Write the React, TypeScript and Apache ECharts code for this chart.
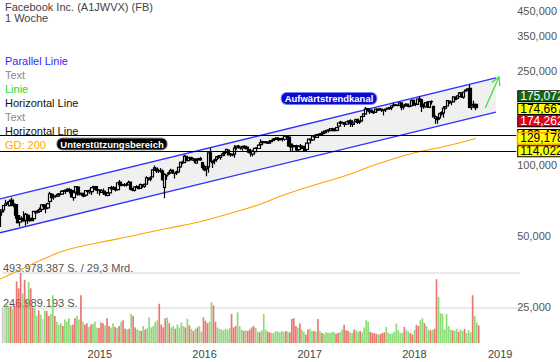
import React, { useEffect, useRef } from 'react';
import * as echarts from 'echarts';

// weekly candles, [open, close, low, high]
const ohlc2014 = [
  [54.7, 62.6, 54.4, 63.4], [63.0, 64.3, 60.7, 64.6], [64.2, 67.1, 62.7, 67.3], [67.1, 68.1, 66.9, 71.0],
  [68.7, 68.5, 67.6, 70.0], [67.0, 69.8, 66.5, 71.2], [70.8, 67.7, 67.0, 72.6], [68.1, 67.2, 66.0, 69.5],
  [67.7, 61.0, 59.0, 67.9], [60.8, 56.8, 56.3, 63.9], [57.1, 58.5, 54.7, 61.0], [59.2, 58.9, 56.8, 60.4],
  [59.1, 57.7, 57.2, 63.5], [58.1, 61.5, 55.0, 62.3], [61.0, 57.9, 56.2, 61.4], [59.0, 58.0, 57.3, 60.9],
  [57.9, 58.6, 57.5, 59.6], [59.0, 63.3, 58.9, 63.8], [63.2, 62.5, 61.5, 63.6], [62.9, 63.5, 62.2, 64.3],
  [63.4, 64.5, 63.0, 65.8], [64.6, 67.6, 64.0, 68.0], [67.5, 66.3, 66.1, 68.1], [65.8, 65.0, 62.2, 66.2],
  [65.5, 68.4, 64.9, 69.0], [69.9, 75.2, 68.0, 76.7], [74.9, 72.4, 71.5, 75.7], [72.9, 73.1, 71.0, 74.0],
  [73.5, 73.6, 72.6, 74.4], [73.6, 74.6, 73.2, 75.6], [75.2, 74.8, 73.8, 75.9], [75.0, 77.0, 74.7, 77.9],
  [77.0, 77.5, 76.2, 78.0], [77.1, 77.9, 75.0, 78.3], [77.8, 78.8, 77.0, 79.4], [78.1, 77.4, 75.5, 79.7],
  [77.6, 72.9, 72.6, 78.6], [72.5, 76.0, 70.3, 76.3], [76.5, 80.7, 76.4, 81.2], [80.3, 75.0, 73.8, 81.2],
  [75.1, 75.6, 73.9, 76.0], [75.6, 75.0, 73.6, 75.8], [74.9, 73.6, 72.7, 75.2], [74.3, 77.7, 73.7, 78.0],
  [77.3, 77.0, 75.6, 77.9], [76.6, 77.8, 75.0, 78.0], [76.8, 79.9, 74.4, 80.0], [80.1, 80.8, 79.5, 81.4],
  [80.7, 78.5, 77.5, 81.0],
];
const ohlc2015 = [
  [78.0, 77.7, 75.2, 78.3], [78.0, 77.8, 73.9, 78.6], [76.2, 77.5, 75.8, 78.5], [77.2, 75.9, 74.4, 79.2],
  [76.1, 75.0, 73.5, 76.3], [74.1, 75.7, 73.5, 76.0], [75.9, 79.9, 75.7, 80.3], [79.6, 79.0, 78.1, 81.4],
  [79.0, 80.0, 78.0, 81.2], [79.7, 78.1, 76.9, 80.5], [78.4, 83.8, 78.2, 84.0], [84.3, 82.3, 80.2, 86.1],
  [82.4, 81.7, 81.0, 83.6], [81.8, 82.3, 80.5, 83.5], [82.4, 82.0, 80.8, 83.7], [82.1, 84.0, 81.6, 85.6],
  [84.4, 78.8, 77.8, 84.7], [78.9, 78.1, 77.1, 79.6], [77.8, 80.4, 76.9, 81.0], [80.4, 80.6, 79.6, 81.7],
  [80.5, 79.2, 78.9, 81.5], [79.3, 82.4, 79.0, 83.2], [82.4, 80.9, 79.7, 82.8], [80.9, 82.5, 79.9, 83.2],
  [82.6, 88.0, 82.4, 89.4], [86.7, 87.6, 85.4, 88.1], [86.8, 88.0, 85.0, 89.2], [88.8, 95.0, 88.5, 95.0],
  [95.5, 97.0, 94.0, 99.2], [96.6, 94.0, 92.2, 97.0], [94.4, 94.3, 92.2, 96.0], [94.3, 94.2, 92.3, 96.7],
  [93.8, 86.1, 85.8, 95.6], [80.0, 91.0, 72.0, 92.0], [89.8, 89.7, 86.1, 90.8], [91.3, 92.0, 90.1, 93.4],
  [92.3, 94.4, 91.4, 96.0], [94.9, 92.8, 91.3, 95.0], [92.0, 92.1, 87.4, 92.5], [92.3, 93.2, 90.5, 94.2],
  [93.2, 97.5, 92.3, 97.9], [97.8, 102.2, 97.1, 103.0], [102.3, 102.0, 100.5, 104.0], [102.0, 108.8, 101.8, 110.1],
  [108.5, 103.9, 103.7, 109.1], [104.0, 106.9, 103.6, 107.8], [107.3, 105.5, 104.1, 107.9], [104.8, 106.2, 103.8, 107.7],
  [105.8, 104.0, 101.5, 106.6], [101.4, 104.0, 100.8, 106.5], [104.9, 105.9, 104.2, 107.0], [106.0, 104.7, 104.0, 107.9],
];
const ohlc2016 = [
  [102.0, 97.3, 95.4, 103.0], [97.9, 95.0, 93.8, 99.8], [95.9, 97.9, 89.4, 98.6], [97.9, 112.2, 92.3, 112.8],
  [112.3, 104.1, 102.6, 117.6], [103.0, 102.0, 96.8, 104.2], [103.7, 104.6, 100.5, 105.9], [105.3, 107.9, 103.0, 108.9],
  [108.0, 108.4, 106.0, 110.0], [107.4, 109.4, 104.9, 109.9], [109.2, 111.0, 108.6, 112.6], [111.5, 112.5, 108.9, 113.2],
  [112.8, 116.1, 112.3, 116.3], [115.4, 110.1, 109.8, 115.7], [110.7, 110.5, 108.0, 112.0], [110.8, 110.1, 108.7, 111.5],
  [110.9, 117.6, 107.1, 120.8], [118.0, 119.8, 115.8, 120.5], [119.7, 119.8, 117.0, 121.1], [118.8, 117.7, 115.8, 119.5],
  [117.9, 119.5, 114.7, 120.0], [119.7, 118.5, 116.9, 120.8], [118.6, 116.6, 115.9, 119.4], [115.6, 113.0, 111.9, 116.6],
  [114.0, 112.3, 108.2, 116.8], [110.9, 114.2, 108.2, 115.2], [113.6, 117.2, 112.0, 117.9], [117.8, 117.3, 116.0, 118.7],
  [117.1, 121.0, 116.8, 121.1], [121.6, 123.9, 120.6, 128.3], [123.9, 125.2, 122.5, 126.4], [125.2, 124.9, 123.8, 126.0],
  [124.6, 123.6, 122.6, 125.2], [123.4, 125.0, 122.5, 125.7], [125.2, 126.5, 123.4, 126.7], [126.7, 127.1, 126.0, 129.0],
  [127.9, 129.1, 125.7, 129.5], [129.3, 129.9, 127.8, 130.1], [127.5, 128.3, 125.7, 129.3], [128.4, 129.0, 127.3, 129.4],
  [129.2, 127.9, 125.5, 130.0], [128.2, 132.1, 126.7, 133.0], [132.7, 131.3, 130.3, 133.5], [130.9, 120.0, 119.1, 131.0],
  [122.2, 119.0, 114.0, 124.0], [119.6, 119.2, 113.6, 119.7], [120.2, 120.4, 119.0, 121.2], [120.1, 115.4, 114.0, 121.6],
  [115.9, 119.7, 114.1, 120.0], [119.0, 119.9, 116.8, 122.5], [119.5, 117.3, 116.9, 119.8], [116.5, 115.1, 114.8, 118.3],
];
const ohlc2017 = [
  [116.0, 123.4, 115.5, 123.9], [123.6, 128.3, 123.0, 129.3], [128.0, 127.0, 126.2, 128.5], [127.3, 132.2, 126.8, 133.0],
  [132.0, 131.0, 129.5, 133.9], [130.5, 134.2, 130.0, 134.5], [134.4, 133.5, 132.5, 134.6], [133.8, 135.4, 133.3, 136.0],
  [135.5, 137.4, 134.8, 138.0], [136.8, 138.7, 136.0, 139.4], [139.0, 139.8, 137.9, 140.4], [139.8, 140.3, 136.9, 141.4],
  [139.4, 142.1, 138.6, 142.8], [141.9, 140.8, 139.0, 143.4], [141.0, 139.4, 138.3, 142.2], [139.8, 143.7, 139.0, 143.9],
  [145.7, 150.3, 145.2, 151.0], [151.7, 150.2, 148.2, 153.6], [150.7, 150.3, 149.0, 151.4], [150.7, 148.1, 144.5, 151.2],
  [148.5, 152.1, 148.3, 152.3], [152.0, 153.6, 150.9, 154.0], [153.6, 149.6, 144.6, 155.8], [148.2, 150.6, 144.4, 152.7],
  [152.4, 155.1, 152.0, 156.5], [155.6, 151.0, 148.8, 156.5], [151.7, 153.5, 148.8, 153.9], [153.4, 160.0, 152.2, 160.3],
  [160.2, 164.4, 159.9, 165.0], [164.0, 172.5, 163.1, 175.5], [173.0, 171.2, 168.1, 173.4], [170.5, 168.1, 164.1, 173.1],
  [170.1, 167.4, 165.5, 171.7], [167.2, 166.3, 164.2, 169.0], [166.6, 172.0, 165.8, 173.0], [172.0, 170.0, 168.5, 173.0],
  [172.0, 171.7, 170.0, 174.0], [172.0, 170.5, 167.2, 173.1], [170.5, 170.9, 161.6, 172.0], [171.4, 172.2, 167.5, 173.0],
  [172.6, 173.7, 171.0, 174.5], [173.5, 174.7, 171.2, 174.8], [174.7, 177.9, 170.3, 178.0], [178.0, 178.9, 176.1, 183.0],
  [178.6, 178.8, 177.4, 181.0], [178.6, 179.0, 176.6, 180.0], [178.5, 182.8, 178.0, 183.0], [183.0, 175.1, 170.1, 184.2],
  [176.0, 179.0, 171.6, 180.0], [179.0, 180.2, 176.6, 182.3], [180.6, 177.5, 175.8, 181.0], [177.1, 176.5, 175.4, 178.9],
];
const ohlc2018 = [
  [177.7, 186.9, 177.6, 188.9], [187.9, 179.4, 177.4, 188.9], [181.5, 181.3, 176.8, 182.4], [180.2, 190.0, 179.0, 190.6],
  [189.0, 190.3, 184.6, 195.3], [188.2, 176.1, 167.2, 190.6], [177.0, 177.4, 172.8, 181.6], [175.8, 183.3, 174.5, 183.6],
  [184.5, 176.6, 174.1, 185.7], [175.2, 185.2, 174.0, 185.5], [185.2, 185.1, 180.0, 187.6], [177.0, 159.4, 159.0, 177.2],
  [157.0, 159.8, 149.0, 161.8], [155.4, 157.2, 149.0, 159.7], [157.9, 164.5, 155.0, 166.0], [164.2, 166.3, 161.4, 168.7],
  [165.8, 173.6, 158.2, 177.1], [173.8, 176.6, 171.9, 177.5], [177.4, 187.0, 177.1, 187.7], [186.0, 183.2, 180.9, 187.1],
  [184.6, 184.9, 178.9, 186.0], [184.9, 194.0, 183.4, 194.1], [193.1, 189.1, 187.5, 194.9], [191.1, 195.9, 189.5, 196.9],
  [194.4, 201.7, 193.1, 203.6], [201.5, 194.3, 191.8, 202.5], [193.4, 203.2, 190.4, 203.6], [204.9, 207.3, 203.9, 208.6],
  [207.5, 210.0, 205.4, 210.6], [210.6, 174.9, 173.5, 218.6], [175.3, 177.8, 170.6, 179.8], [178.9, 180.3, 177.2, 187.0],
  [180.1, 174.7, 170.3, 181.4],
];

// weekly volume, million shares
const vol2014 = [250, 245, 275, 250, 262, 240, 262, 434, 385, 494, 350, 446, 300, 430, 386, 250, 245, 193, 230, 200,
  170, 230, 225, 190, 205, 337, 190, 150, 130, 140, 120, 165, 150, 175, 125, 130, 175, 190, 165, 337,
  150, 130, 140, 115, 130, 135, 150, 110, 105];
const vol2015 = [145, 140, 125, 175, 120, 110, 140, 115, 105, 120, 150, 160, 100, 95, 100, 205, 190, 110, 95, 90,
  85, 120, 95, 105, 181, 110, 120, 150, 160, 277, 130, 110, 175, 180, 140, 110, 120, 100, 130, 110,
  145, 120, 110, 170, 125, 100, 85, 100, 110, 120, 80, 181];
const vol2016 = [157, 140, 150, 289, 265, 150, 110, 100, 95, 90, 100, 95, 105, 205, 110, 120, 217, 120, 95, 85,
  90, 85, 95, 110, 120, 105, 80, 75, 90, 205, 95, 80, 75, 70, 72, 85, 80, 75, 85, 78,
  85, 80, 75, 170, 175, 120, 110, 137, 96, 80, 60, 96];
const vol2017 = [100, 85, 84, 80, 169, 85, 70, 65, 75, 72, 70, 80, 75, 65, 70, 78, 95, 128, 90, 85,
  75, 70, 95, 88, 80, 85, 75, 110, 161, 150, 80, 72, 70, 65, 60, 62, 70, 75, 113, 72,
  65, 68, 80, 137, 90, 70, 72, 113, 90, 80, 70, 60];
const vol2018 = [90, 128, 120, 161, 176, 140, 120, 95, 90, 92, 100, 450, 325, 210, 205, 96, 205, 120, 95, 90,
  85, 100, 80, 95, 85, 100, 70, 90, 75, 337, 193, 145, 125];

const firstWeek = '2014-01-27';
const axisStart = '2014-01-28';
const axisEnd = '2019-01-01';
const neutralWeeks = [0, 1, 20];
const volumeMax = 493978387;
const turnoverText = '29,3 Mrd.';
const priceTicks = [25, 50, 100, 250, 350, 450];

const gdDates = ['2014-01-28', '2014-04-07', '2014-06-15', '2014-09-17', '2015-01-09', '2015-05-03', '2015-08-28',
  '2015-12-21', '2016-04-13', '2016-07-15', '2016-10-03', '2017-01-28', '2017-05-23', '2017-09-14', '2018-01-09',
  '2018-05-03', '2018-08-13'];
const gdValues = [32.7, 35.7, 39.1, 43.4, 46.7, 49.8, 53.5, 57.1, 62.4, 67.4, 73.6, 82.0, 90.4, 101.6, 112.1, 120.0, 129.178];
const gdLast = 129.178;

const channelDates = ['2014-01-28', '2018-10-22'];
const channelUpper = [71.5, 233.3];
const channelLower = [51.4, 167.3];
const arrowDates = ['2018-09-15', '2018-11-02'];
const arrowPrices = [174.0, 235.6];
const horizontalLevels = [133.478, 114.022];
const quoteLevels = [175.072, 174.667, 174.262];

const legendTexts = ['Parallel Linie', 'Text', 'Linie', 'Horizontal Line', 'Text', 'Horizontal Line', 'GD: 200'];
const legendColors = ['#2b2bff', '#8a8a8a', '#22dd22', '#111111', '#8a8a8a', '#111111', '#ffa500'];

const FONT = '"Liberation Sans", Arial, sans-serif';
const DAY = 86400000;
const ts = (d: string) => new Date(d + 'T00:00:00Z').getTime();
const fmtPrice = (v: number) => Number(v).toFixed(3).replace('.', ',');
const fmtInt = (v: number) => Math.floor(v).toString().replace(/\B(?=(\d{3})+(?!\d))/g, '.');
const yearLabel = (v: number) => {
  const d = new Date(v);
  if (d.getUTCMonth() !== 0 || d.getUTCDate() !== 1) return '';
  const y = String(d.getUTCFullYear());
  return v >= ts(axisEnd) ? `{last|${y}}` : y;
};

function buildOption() {
  const ohlc = [...ohlc2014, ...ohlc2015, ...ohlc2016, ...ohlc2017, ...ohlc2018];
  const vols = [...vol2014, ...vol2015, ...vol2016, ...vol2017, ...vol2018];
  const t0 = ts(firstWeek);
  const dates = ohlc.map((_, i) => t0 + i * 7 * DAY);
  const candleData = ohlc.map((c, i) => [dates[i], c[0], c[1], c[2], c[3]]);
  const volData = vols.map((v, i) => {
    const c = ohlc[i];
    let color = c[1] >= c[0] ? 'rgba(105,205,75,0.75)' : 'rgba(228,65,65,0.72)';
    if (neutralWeeks.includes(i)) color = 'rgba(165,165,165,0.55)';
    return { value: [dates[i], v * 1e6], itemStyle: { color } };
  });
  const gdData = gdDates.map((d, i) => [ts(d), gdValues[i]]);

  const hidden = { color: 'rgba(0,0,0,0)', width: 0 };
  const boxLabel = (bg: string, fg: string, border: string, offset: number[], bw = 1) => ({
    show: true,
    position: 'end',
    distance: 2,
    formatter: (p: any) => fmtPrice(p.value),
    backgroundColor: bg,
    color: fg,
    borderColor: border,
    borderWidth: bw,
    padding: [0, 2, 0, 2],
    fontSize: 12,
    lineHeight: 10,
    fontFamily: FONT,
    offset,
  });

  const text = (t: string, x: number, y: number, fill: string) => ({
    type: 'text', x, y, z: 100,
    style: { text: t, fill, fontSize: 11, fontFamily: FONT, verticalAlign: 'middle' },
  });

  return {
    animation: false,
    textStyle: { fontFamily: FONT },
    grid: [
      { left: 0, top: 0, width: 520, height: 343 },
      { left: 0, top: 273, width: 520, height: 70 },
    ],
    xAxis: [
      { type: 'time', gridIndex: 0, min: ts(axisStart), max: ts(axisEnd), show: false },
      {
        type: 'time', gridIndex: 1, min: ts(axisStart), max: ts(axisEnd),
        minInterval: 365 * DAY, maxInterval: 366 * DAY,
        axisLine: { show: false }, axisTick: { show: false }, splitLine: { show: false },
        axisLabel: {
          formatter: (v: number) => yearLabel(v),
          color: '#444', fontSize: 11, margin: 5, showMinLabel: false,
          rich: { last: { color: '#444', fontSize: 11, padding: [0, 38, 0, 0] } },
        },
      },
    ],
    yAxis: [
      {
        type: 'log', gridIndex: 0, position: 'right', min: 17.5, max: 500,
        axisLine: { show: false }, axisTick: { show: false }, splitLine: { show: false },
        axisLabel: {
          customValues: priceTicks, formatter: (v: number) => fmtPrice(v),
          color: '#555', fontSize: 11, margin: 1,
        },
      },
      {
        type: 'value', gridIndex: 1, position: 'left', min: 0, max: volumeMax, interval: volumeMax / 2,
        axisLine: { show: false }, axisTick: { show: false },
        splitLine: { show: true, showMinLine: false, lineStyle: { color: '#e2e2e2', width: 1.5 } },
        axisLabel: {
          inside: true, margin: 1, verticalAlign: 'bottom', showMinLabel: false,
          color: '#555', fontSize: 11,
          formatter: (v: number) => (v >= volumeMax - 1 ? `${fmtInt(v)} S. / ${turnoverText}` : `${fmtInt(v)} S.`),
        },
      },
    ],
    series: [
      {
        type: 'custom', name: 'Parallel Linie', xAxisIndex: 0, yAxisIndex: 0, silent: true,
        data: [[ts(channelDates[0]), channelUpper[0]]],
        encode: { x: 0, y: 1 },
        renderItem: (_p: any, api: any) => {
          const a = api.coord([ts(channelDates[0]), channelUpper[0]]);
          const b = api.coord([ts(channelDates[1]), channelUpper[1]]);
          const c = api.coord([ts(channelDates[1]), channelLower[1]]);
          const d = api.coord([ts(channelDates[0]), channelLower[0]]);
          const ls = { stroke: '#2f2fff', lineWidth: 1.3 };
          return {
            type: 'group',
            children: [
              { type: 'polygon', shape: { points: [a, b, c, d] }, style: { fill: '#f0f0f0' } },
              { type: 'line', shape: { x1: a[0], y1: a[1], x2: b[0], y2: b[1] }, style: ls },
              { type: 'line', shape: { x1: d[0], y1: d[1], x2: c[0], y2: c[1] }, style: ls },
            ],
          };
        },
      },
      {
        type: 'candlestick', name: 'Facebook', xAxisIndex: 0, yAxisIndex: 0,
        barWidth: 3,
        data: candleData,
        itemStyle: { color: '#ffffff', color0: '#000000', borderColor: '#000000', borderColor0: '#000000', borderWidth: 1.2 },
        markLine: {
          silent: true, symbol: ['none', 'none'], precision: 3,
          data: [
            ...horizontalLevels.map((v) => ({
              yAxis: v,
              lineStyle: { color: '#000', width: 1.2, type: 'solid' },
              label: boxLabel('#ffff00', '#000', '#000', [0, 0]),
            })),
            { yAxis: quoteLevels[0], lineStyle: hidden, label: boxLabel('#13661a', '#fff', '#000', [0, -11]) },
            { yAxis: quoteLevels[1], lineStyle: hidden, label: boxLabel('#ffff00', '#000', '#000', [0, 1.5]) },
            { yAxis: quoteLevels[2], lineStyle: hidden, label: boxLabel('#e3001b', '#fff', '#000', [0, 13.5]) },
          ],
        },
      },
      {
        type: 'line', name: 'GD: 200', xAxisIndex: 0, yAxisIndex: 0, data: gdData,
        showSymbol: false, symbol: 'none', smooth: true,
        lineStyle: { color: '#ffa500', width: 1.1 },
        markLine: {
          silent: true, symbol: ['none', 'none'], precision: 3,
          data: [{ yAxis: gdLast, lineStyle: hidden, label: boxLabel('#ffff00', '#000', '#ffa500', [0, 0], 1.5) }],
        },
      },
      {
        type: 'custom', name: 'Linie', xAxisIndex: 0, yAxisIndex: 0, silent: true,
        data: [[ts(arrowDates[0]), arrowPrices[0]]],
        encode: { x: 0, y: 1 },
        renderItem: (_p: any, api: any) => {
          const s = api.coord([ts(arrowDates[0]), arrowPrices[0]]);
          const e = api.coord([ts(arrowDates[1]), arrowPrices[1]]);
          const dx = e[0] - s[0];
          const dy = e[1] - s[1];
          const len = Math.hypot(dx, dy);
          const ux = dx / len;
          const uy = dy / len;
          const p1 = [e[0] - 8 * ux - 4.5 * uy, e[1] - 8 * uy + 4.5 * ux];
          const p2 = [e[0] - 8 * ux + 4.5 * uy, e[1] - 8 * uy - 4.5 * ux];
          const st = { stroke: '#33e033', lineWidth: 1.2, fill: null };
          return {
            type: 'group',
            children: [
              { type: 'line', shape: { x1: s[0], y1: s[1], x2: e[0], y2: e[1] }, style: st },
              { type: 'polyline', shape: { points: [p1, e, p2] }, style: st },
            ],
          };
        },
      },
      {
        type: 'bar', name: 'Volumen', xAxisIndex: 1, yAxisIndex: 1, barWidth: 1.7,
        data: volData,
      },
    ],
    graphic: [
      text('Facebook Inc. (A1JWVX) (FB)', 5, 7, '#444'),
      text('1 Woche', 5, 18, '#444'),
      ...legendTexts.map((t, i) => text(t, 5, 61 + i * 14, legendColors[i])),
      {
        type: 'text', x: 329, y: 98.5, z: 100,
        style: {
          text: 'Aufwärtstrendkanal', fill: '#fff', fontSize: 9.5, fontWeight: 'bold', fontFamily: FONT,
          align: 'center', verticalAlign: 'middle', backgroundColor: '#0b0bc8', borderColor: '#7a7aff',
          borderWidth: 1, borderRadius: 5, padding: [1, 3, 0, 3],
        },
      },
      {
        type: 'text', x: 112, y: 144, z: 100,
        style: {
          text: 'Unterstützungsbereich', fill: '#fff', fontSize: 9.5, fontWeight: 'bold', fontFamily: FONT,
          align: 'center', verticalAlign: 'middle', backgroundColor: '#000', borderColor: '#999',
          borderWidth: 1, borderRadius: 5, padding: [1, 3, 0, 3],
        },
      },
    ],
  };
}

export default function App() {
  const ref = useRef<HTMLDivElement>(null);
  useEffect(() => {
    if (!ref.current) return;
    const chart = echarts.init(ref.current, undefined, { renderer: 'svg' });
    chart.setOption(buildOption() as any);
    return () => chart.dispose();
  }, []);
  return <div ref={ref} style={{ position: 'absolute', left: 0, top: 0, width: 560, height: 362 }} />;
}
